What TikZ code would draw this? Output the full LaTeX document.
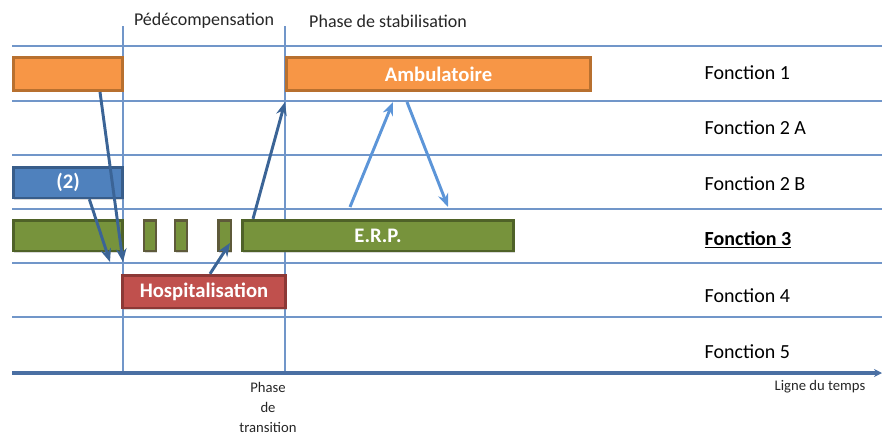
\documentclass[tikz,border=0pt]{standalone}
\usepackage{fontspec}
\setmainfont{Carlito}
\usetikzlibrary{arrows.meta,shadows}

\definecolor{gridblue}{HTML}{7196C9}
\definecolor{timeblue}{HTML}{4A6FA3}
\definecolor{linkdark}{HTML}{3B6496}
\definecolor{linklight}{HTML}{5C95D8}
\definecolor{ambfill}{HTML}{F79646}
\definecolor{ambline}{HTML}{B8702F}
\definecolor{bluefill}{HTML}{4F81BD}
\definecolor{blueline}{HTML}{385D8A}
\definecolor{erpfill}{HTML}{77933C}
\definecolor{erpline}{HTML}{4F6228}
\definecolor{gapline}{HTML}{5E5A3A}
\definecolor{hospfill}{HTML}{C0504D}
\definecolor{hospline}{HTML}{8C3836}

\begin{document}
\begin{tikzpicture}
    [x=0.75pt, y=-0.75pt,
    every node/.style={font=\fontsize{15}{18}\selectfont},
    bar/.style={draw, line width=2pt, inner sep=0pt, text=white,
        font=\fontsize{15.5}{18}\selectfont\bfseries,
        drop shadow={opacity=0.3, shadow xshift=0.8pt, shadow yshift=-1.3pt}},
    grid line/.style={draw=gridblue, line width=1.5pt},
    link/.style={draw=linkdark, line width=2.2pt, -{Stealth[length=10pt,width=8pt]}},
    light link/.style={link, draw=linklight},
    phase/.style={font=\fontsize{13.5}{16}\selectfont, text=black!85}
    ]
    \useasboundingbox (0,0) rectangle (882,439);

    % lignes des fonctions
    \foreach \y in {46,101,155,209,263,317}
        \draw[grid line] (12,\y) -- (882,\y);
    \draw[grid line] (123,26) -- (123,373);
    \draw[grid line] (285,26) -- (285,375);
    \draw[draw=timeblue, line width=3pt, -{Stealth[length=6pt,width=6pt]}] (12,373) -- (882,373);

    % barres
    \node (amb0) [bar, fill=ambfill, draw=ambline, minimum width=82pt, minimum height=25pt] at (68,74) {};
    \node (amb) [bar, fill=ambfill, draw=ambline, minimum width=228pt, minimum height=25pt] at (438.5,74) {Ambulatoire};
    \node (fb) [bar, fill=bluefill, draw=blueline, minimum width=82pt, minimum height=23pt] at (68,182.5) {(2)};
    \node (erp0) [bar, fill=erpfill, draw=erpline, minimum width=82pt, minimum height=23pt] at (68,235.5) {};
    \node (s1) [bar, fill=erpfill, draw=gapline, minimum width=9pt, minimum height=23pt] at (150,235.5) {};
    \node (s2) [bar, fill=erpfill, draw=gapline, minimum width=9pt, minimum height=23pt] at (181,235.5) {};
    \node (s3) [bar, fill=erpfill, draw=gapline, minimum width=9.5pt, minimum height=23pt] at (224.5,235.5) {};
    \node (erp) [bar, fill=erpfill, draw=erpline, minimum width=203.5pt, minimum height=23pt] at (378,235.5) {E.R.P.};
    \node (hosp) [bar, fill=hospfill, draw=hospline, minimum width=122.5pt, minimum height=24.5pt] at (204,291.5) {Hospitalisation};

    % fonctions
    \node (f1) [anchor=west] at (700,73) {Fonction 1};
    \node (f2a) [anchor=west] at (700,128) {Fonction 2 A};
    \node (f2b) [anchor=west] at (700,184) {Fonction 2 B};
    \node (f3) [anchor=west, font=\fontsize{15}{18}\selectfont\bfseries] at (700,240) {\underline{Fonction 3}};
    \node (f4) [anchor=west] at (700,296) {Fonction 4};
    \node (f5) [anchor=west] at (700,352) {Fonction 5};

    % phases
    \node (pdec) [phase] at (204,21) {Pédécompensation};
    \node (pstab) [phase] at (388,21) {Phase de stabilisation};
    \node (ptrans) [phase, align=center, font=\fontsize{11}{15}\selectfont] at (268,407) {Phase\\de\\transition};
    \node (ltemps) [phase, anchor=west, font=\fontsize{11}{13}\selectfont] at (770,387) {Ligne du temps};

    % fleches
    \coordinate (c1) at (123,262);
    \coordinate (c2) at (110,262);
    \coordinate (c3) at (230,243);
    \coordinate (c4) at (285,102);
    \coordinate (c5a) at (350,207);
    \coordinate (c5b) at (393,102);
    \coordinate (c6a) at (407,102);
    \coordinate (c6b) at (448,207);
    \draw[link] ([xshift=24pt]amb0.south) -- (c1);
    \draw[link] ([xshift=16pt]fb.south) -- (c2);
    \draw[link] ([xshift=4.5pt]hosp.north) -- (c3);
    \draw[link] ([xshift=9pt]erp.north west) -- (c4);
    \draw[light link] (c5a) -- (c5b);
    \draw[light link] (c6a) -- (c6b);
\end{tikzpicture}
\end{document}
